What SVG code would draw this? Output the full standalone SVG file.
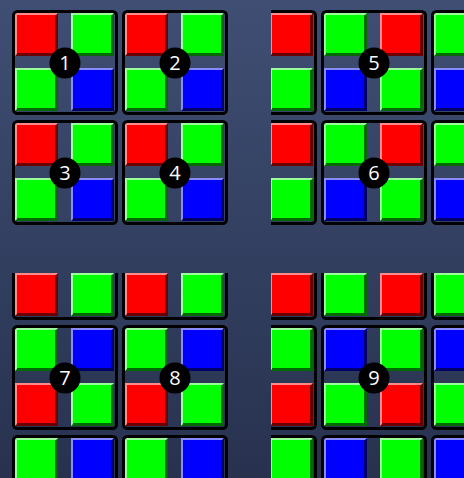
<svg xmlns="http://www.w3.org/2000/svg" xmlns:xlink="http://www.w3.org/1999/xlink" width="464" height="478" viewBox="0 0 464 478">
<style>
.frame{fill:none;stroke:#000;stroke-width:3}
.badge{fill:#000}
.num{fill:#fff;font-family:"Open Sans","DejaVu Sans",sans-serif;font-size:20px;text-anchor:middle}
</style>
<defs>
<linearGradient id="bg" x1="0" y1="0" x2="0" y2="1">
<stop offset="0" stop-color="#3f4e73"/>
<stop offset="1" stop-color="#28324f"/>
</linearGradient>
<g id="R">
<rect width="43" height="43" fill="#6a0000"/>
<path d="M0 0H43L41 2H2V41L0 43Z" fill="#ff8a8a"/>
<rect x="2" y="2" width="38" height="38" fill="#ff0000"/>
</g>
<g id="G">
<rect width="43" height="43" fill="#006a00"/>
<path d="M0 0H43L41 2H2V41L0 43Z" fill="#9aff9a"/>
<rect x="2" y="2" width="38" height="38" fill="#00ff00"/>
</g>
<g id="B">
<rect width="43" height="43" fill="#00006a"/>
<path d="M0 0H43L41 2H2V41L0 43Z" fill="#8a8aff"/>
<rect x="2" y="2" width="38" height="38" fill="#0000ff"/>
</g>
<clipPath id="cTR"><rect x="271" y="0" width="193" height="240"/></clipPath>
<clipPath id="cBL"><rect x="0" y="273" width="240" height="205"/></clipPath>
<clipPath id="cBR"><rect x="271" y="273" width="193" height="205"/></clipPath>
</defs>
<rect width="464" height="478" fill="url(#bg)"/>

<!-- Top-left: blocks 1-4 -->
<g id="block1">
<use href="#R" x="15" y="13"/><use href="#G" x="71" y="13"/><use href="#G" x="15" y="68"/><use href="#B" x="71" y="68"/>
<rect class="frame" x="13.5" y="11.5" width="103" height="102" rx="4"/>
<circle class="badge" cx="65" cy="63" r="15.5"/><text class="num" x="65" y="70">1</text>
</g>
<g id="block2">
<use href="#R" x="125" y="13"/><use href="#G" x="181" y="13"/><use href="#G" x="125" y="68"/><use href="#B" x="181" y="68"/>
<rect class="frame" x="123.5" y="11.5" width="103" height="102" rx="4"/>
<circle class="badge" cx="175" cy="63" r="15.5"/><text class="num" x="175" y="70">2</text>
</g>
<g id="block3">
<use href="#R" x="15" y="123"/><use href="#G" x="71" y="123"/><use href="#G" x="15" y="178"/><use href="#B" x="71" y="178"/>
<rect class="frame" x="13.5" y="121.5" width="103" height="102" rx="4"/>
<circle class="badge" cx="65" cy="173" r="15.5"/><text class="num" x="65" y="180">3</text>
</g>
<g id="block4">
<use href="#R" x="125" y="123"/><use href="#G" x="181" y="123"/><use href="#G" x="125" y="178"/><use href="#B" x="181" y="178"/>
<rect class="frame" x="123.5" y="121.5" width="103" height="102" rx="4"/>
<circle class="badge" cx="175" cy="173" r="15.5"/><text class="num" x="175" y="180">4</text>
</g>

<!-- Top-right: blocks 5-6 with neighbours -->
<g id="topright-partials" clip-path="url(#cTR)">
<use href="#R" x="270" y="13"/><use href="#G" x="270" y="68"/>
<use href="#R" x="270" y="123"/><use href="#G" x="270" y="178"/>
<rect class="frame" x="212.5" y="11.5" width="103" height="102" rx="4"/>
<rect class="frame" x="212.5" y="121.5" width="103" height="102" rx="4"/>
<use href="#G" x="434" y="13"/><use href="#B" x="434" y="68"/>
<use href="#G" x="434" y="123"/><use href="#B" x="434" y="178"/>
<rect class="frame" x="432.5" y="11.5" width="103" height="102" rx="4"/>
<rect class="frame" x="432.5" y="121.5" width="103" height="102" rx="4"/>
</g>
<g id="block5">
<use href="#G" x="324" y="13"/><use href="#R" x="380" y="13"/><use href="#B" x="324" y="68"/><use href="#G" x="380" y="68"/>
<rect class="frame" x="322.5" y="11.5" width="103" height="102" rx="4"/>
<circle class="badge" cx="374" cy="63" r="15.5"/><text class="num" x="374" y="70">5</text>
</g>
<g id="block6">
<use href="#G" x="324" y="123"/><use href="#R" x="380" y="123"/><use href="#B" x="324" y="178"/><use href="#G" x="380" y="178"/>
<rect class="frame" x="322.5" y="121.5" width="103" height="102" rx="4"/>
<circle class="badge" cx="374" cy="173" r="15.5"/><text class="num" x="374" y="180">6</text>
</g>

<!-- Bottom-left: blocks 7-8 with neighbours -->
<g id="bottomleft-partials" clip-path="url(#cBL)">
<use href="#R" x="15" y="273"/><use href="#G" x="71" y="273"/><use href="#R" x="125" y="273"/><use href="#G" x="181" y="273"/>
<rect class="frame" x="13.5" y="216.5" width="103" height="102" rx="4"/>
<rect class="frame" x="123.5" y="216.5" width="103" height="102" rx="4"/>
<use href="#G" x="15" y="438"/><use href="#B" x="71" y="438"/><use href="#G" x="125" y="438"/><use href="#B" x="181" y="438"/>
<rect class="frame" x="13.5" y="436.5" width="103" height="102" rx="4"/>
<rect class="frame" x="123.5" y="436.5" width="103" height="102" rx="4"/>
</g>
<g id="block7">
<use href="#G" x="15" y="328"/><use href="#B" x="71" y="328"/><use href="#R" x="15" y="383"/><use href="#G" x="71" y="383"/>
<rect class="frame" x="13.5" y="326.5" width="103" height="102" rx="4"/>
<circle class="badge" cx="65" cy="378" r="15.5"/><text class="num" x="65" y="385">7</text>
</g>
<g id="block8">
<use href="#G" x="125" y="328"/><use href="#B" x="181" y="328"/><use href="#R" x="125" y="383"/><use href="#G" x="181" y="383"/>
<rect class="frame" x="123.5" y="326.5" width="103" height="102" rx="4"/>
<circle class="badge" cx="175" cy="378" r="15.5"/><text class="num" x="175" y="385">8</text>
</g>

<!-- Bottom-right: block 9 with neighbours -->
<g id="bottomright-partials" clip-path="url(#cBR)">
<use href="#R" x="270" y="273"/><use href="#G" x="324" y="273"/><use href="#R" x="380" y="273"/><use href="#G" x="434" y="273"/>
<use href="#G" x="270" y="328"/><use href="#B" x="434" y="328"/>
<use href="#R" x="270" y="383"/><use href="#G" x="434" y="383"/>
<use href="#G" x="270" y="438"/><use href="#B" x="324" y="438"/><use href="#G" x="380" y="438"/><use href="#B" x="434" y="438"/>
<rect class="frame" x="212.5" y="216.5" width="103" height="102" rx="4"/>
<rect class="frame" x="322.5" y="216.5" width="103" height="102" rx="4"/>
<rect class="frame" x="432.5" y="216.5" width="103" height="102" rx="4"/>
<rect class="frame" x="212.5" y="326.5" width="103" height="102" rx="4"/>
<rect class="frame" x="432.5" y="326.5" width="103" height="102" rx="4"/>
<rect class="frame" x="212.5" y="436.5" width="103" height="102" rx="4"/>
<rect class="frame" x="322.5" y="436.5" width="103" height="102" rx="4"/>
<rect class="frame" x="432.5" y="436.5" width="103" height="102" rx="4"/>
</g>
<g id="block9">
<use href="#B" x="324" y="328"/><use href="#G" x="380" y="328"/><use href="#G" x="324" y="383"/><use href="#R" x="380" y="383"/>
<rect class="frame" x="322.5" y="326.5" width="103" height="102" rx="4"/>
<circle class="badge" cx="374" cy="378" r="15.5"/><text class="num" x="374" y="385">9</text>
</g>
</svg>
